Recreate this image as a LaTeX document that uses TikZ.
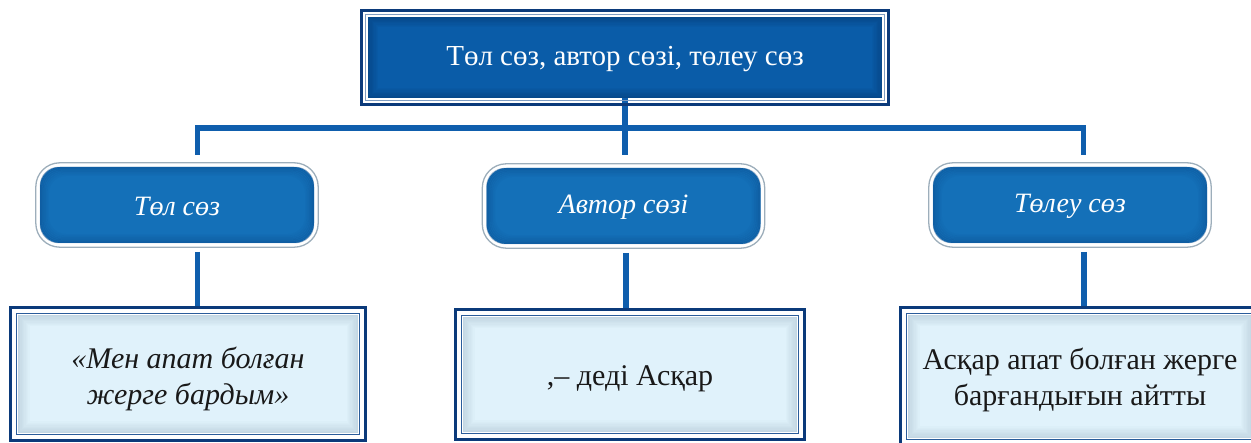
\documentclass[tikz,border=0pt]{standalone}
\usepackage{fontspec}
\setmainfont{Liberation Serif}
\definecolor{navy}{HTML}{0B3A7A}
\definecolor{conncol}{HTML}{0F5EAD}
\definecolor{topfill}{HTML}{0A5CA8}
\definecolor{topedge}{HTML}{03356E}
\definecolor{rndfill}{HTML}{1470B8}
\definecolor{rndedge}{HTML}{0A4A8A}
\definecolor{rndline}{HTML}{9DAEBB}
\definecolor{botfill}{HTML}{E0F2FB}
\definecolor{botedge}{HTML}{8FA6B8}
\definecolor{thinblue}{HTML}{2A5C9A}
\newcommand{\myglow}[5]{% node, color, steps, radius, max opacity
  \foreach \k in {1,...,#3}{
    \pgfmathsetmacro{\op}{#5*(1-(\k-1)/#3)}
    \draw[#2, line width=1.3pt, draw opacity=\op, rounded corners=#4]
      ([shift={({(\k-0.5)*1.3pt},{-(\k-0.5)*1.3pt})}]#1.north west) rectangle
      ([shift={({-(\k-0.5)*1.3pt},{(\k-0.5)*1.3pt})}]#1.south east);
  }}
\tikzset{
  conn/.style={conncol, line width=5.5pt},
  topbox/.style={fill=topfill, draw=none, inner sep=0pt, minimum width=514pt, minimum height=81pt},
  rndbox/.style={fill=rndfill, draw=none, rounded corners=20pt, inner sep=0pt, minimum width=274pt,
    minimum height=76pt},
  botbox/.style={fill=botfill, draw=none, inner sep=0pt},
  toptxt/.style={text=white, font=\fontsize{29}{34}\selectfont},
  rndtxt/.style={text=white, font=\itshape\fontsize{28}{32}\selectfont},
  btext/.style={align=center, text=black!90, font=\fontsize{30}{36}\selectfont},
}
\begin{document}
\begin{tikzpicture}[x=1pt,y=-1pt]
\useasboundingbox (0,0) rectangle (1251,443);
% connector coordinates
\coordinate (jL) at (197.5,128);
\coordinate (jM) at (625,128);
\coordinate (jR) at (1083.5,128);
\coordinate (dL) at (197.5,155);
\coordinate (dM) at (625,155);
\coordinate (dR) at (1083.5,155);
\coordinate (uL) at (197.5,252);
\coordinate (uM) at (626,253);
\coordinate (uR) at (1084,252);
\coordinate (bL) at (197.5,308);
\coordinate (bM) at (626,310);
\coordinate (bR) at (1084,308);
% boxes
\node[topbox] (top) at (625,57.5) {};
\node[rndbox] (r1) at (177,205) {};
\node[rndbox] (r2) at (623.5,206) {};
\node[rndbox] (r3) at (1070,205) {};
\node[botbox, minimum width=340pt, minimum height=118pt] (b1) at (188,374) {};
\node[botbox, minimum width=334pt, minimum height=115pt] (b2) at (630,374.5) {};
\node[botbox, minimum width=344pt, minimum height=123pt] (b3) at (1080,376.5) {};
% connectors
\draw[conn] (top.south) -- (jM);
\draw[conn, line cap=rect] (jL) -- (jR);
\draw[conn] (jL) -- (dL);
\draw[conn] (jM) -- (dM);
\draw[conn] (jR) -- (dR);
\draw[conn] (uL) -- (bL);
\draw[conn] (uM) -- (bM);
\draw[conn] (uR) -- (bR);
% top frame
\myglow{top}{topedge}{8}{0pt}{0.5}
\draw[thinblue!60, line width=1pt] ([shift={(-2pt,2pt)}]top.north west) rectangle ([shift={(2pt,-2pt)}]top.south east);
\draw[navy, line width=3pt] ([shift={(-6pt,6pt)}]top.north west) rectangle ([shift={(6pt,-6pt)}]top.south east);
\node[toptxt] (toptext) at (625,59) {Төл сөз, автор сөзі, төлеу сөз};
% rounded frames
\foreach \n in {r1,r2,r3}{
  \myglow{\n}{rndedge}{7}{18pt}{0.45}
  \draw[rndline, line width=1.3pt, rounded corners=24pt] ([shift={(-4pt,4pt)}]\n.north west) rectangle ([shift={(4pt,-4pt)}]\n.south east);
}
\node[rndtxt] (t1) at (177,206) {Төл сөз};
\node[rndtxt] (t2) at (623.5,207) {Автор сөзі};
\node[rndtxt] (t3) at (1070,206) {Төлеу сөз};
% bottom frames
\foreach \n in {b1,b2,b3}{
  \myglow{\n}{botedge}{9}{0pt}{0.35}
  \draw[thinblue, line width=1.3pt] ([shift={(-1.5pt,1.5pt)}]\n.north west) rectangle ([shift={(1.5pt,-1.5pt)}]\n.south east);
  \draw[navy, line width=3pt] ([shift={(-7.5pt,7.5pt)}]\n.north west) rectangle ([shift={(7.5pt,-7.5pt)}]\n.south east);
}
\node[btext, font=\itshape\fontsize{30}{36}\selectfont] (bt1) at (188,379) {«Мен апат болған\\жерге бардым»};
\node[btext] (bt2) at (630,379) {,– деді Асқар};
\node[btext] (bt3) at (1080,380) {Асқар апат болған жерге\\барғандығын айтты};
\end{tikzpicture}
\end{document}
